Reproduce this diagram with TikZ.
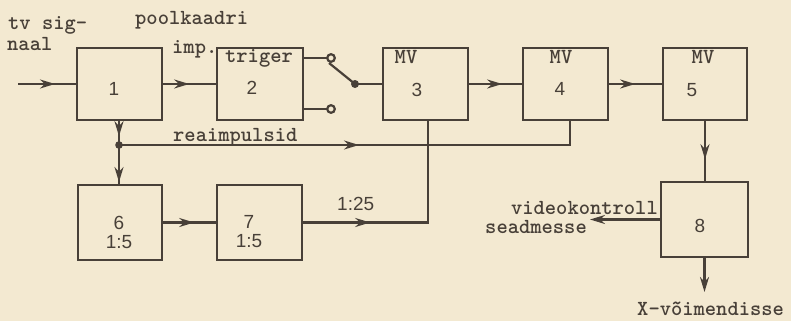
\documentclass[tikz,border=0pt]{standalone}
\usepackage{fontspec}
\newfontfamily\digt{Liberation Sans}
\usetikzlibrary{arrows.meta,decorations.markings}

\begin{document}
\begin{tikzpicture}[x=1pt,y=-1pt,
  blk/.style={draw=ink,line width=2.4pt,minimum width=85pt,minimum height=72pt,inner sep=0pt},
  lbl/.style={text=ink,font=\ttfamily\bfseries\fontsize{21.5}{22}\selectfont,inner sep=0pt},
  num/.style={text=ink,font=\digt\fontsize{19}{19}\selectfont,inner sep=0pt},
  wire/.style={draw=ink,line width=2.2pt},
  midarr/.style={postaction={decorate},decoration={markings,
    mark=at position #1 with {\arrow{Stealth[length=15pt,width=9pt]}}}}]
\definecolor{paper}{RGB}{243,233,209}
\definecolor{ink}{RGB}{72,64,56}
\useasboundingbox (0,0) rectangle (791,321);
\fill[paper] (0,0) rectangle (791,321);
%% --- blocks (pixel coordinates of the scan) ---
\node[blk] (b1) at (119.5,84) {};
\node[blk,minimum width=86pt] (b2) at (260,84) {};
\node[blk] (b3) at (425.5,84) {};
\node[blk] (b4) at (565.5,84) {};
\node[blk,minimum width=84pt] (b5) at (705,84) {};
\node[blk,minimum width=84pt,minimum height=75pt] (b6) at (120,222.5) {};
\node[blk,minimum height=75pt] (b7) at (259.5,222.5) {};
\node[blk,minimum width=87pt,minimum height=75pt] (b8) at (704.5,219.5) {};
%% --- numbers in the blocks
\node[num] (n1) at (114,89) {1};
\node[num] (n2) at (252,88) {2};
\node[num] (n3) at (417,90) {3};
\node[num] (n4) at (560,89) {4};
\node[num] (n5) at (692,90) {5};
\node[num,align=center] (n6) at (119,232) {6\\1:5};
\node[num,align=center] (n7) at (249,232) {7\\1:5};
\node[num] (n8) at (700,226) {8};
\node[lbl,anchor=base] (trg) at (259,63) {triger};
\node[lbl] (m3) at (406,57) {MV};
\node[lbl] (m4) at (561,57) {MV};
\node[lbl] (m5) at (703,57) {MV};
%% --- free ends and bends
\coordinate (in) at (18,84);
\coordinate (kt) at (331,58);
\coordinate (kb) at (331,109);
\coordinate (piv) at (355,84);
\coordinate (j) at (119,145);
\coordinate (c4) at (570,145);
\coordinate (c3) at (428,222.5);
\coordinate (vk) at (590,219.5);
\coordinate (xv) at (704.5,292);
%% --- connectors
\draw[wire,midarr=37pt] (in) -- (b1.west);
\draw[wire,midarr=26pt] (b1.east) -- (b2.west);
\draw[wire] (b2.east |- kt) -- (kt);
\draw[wire] (b2.east |- kb) -- (kb);
\draw[wire] ([shift={(-2,5)}]kt) -- (piv);
\draw[wire] (piv) -- (b3.west);
\draw[wire,fill=paper] (kt) circle (3.8pt);
\draw[wire,fill=paper] (kb) circle (3.8pt);
\fill[ink] (piv) circle (4pt);
\draw[wire,midarr=33pt] (b3.east) -- (b4.west);
\draw[wire,midarr=26pt] (b4.east) -- (b5.west);
\draw[wire,midarr=15pt] (b1.south -| j) -- (j);
\fill[ink] (j) circle (3.8pt);
\draw[wire,midarr=240pt] (j) -- (c4) -- (c4 |- b4.south);
\draw[wire,midarr=37pt] (j) -- (j |- b6.north);
\draw[wire,midarr=31pt] (b6.east) -- (b7.west);
\draw[wire,midarr=67pt] (b7.east) -- (c3) -- (c3 |- b3.south);
\draw[wire,midarr=38pt] (b5.south) -- (b5.south |- b8.north);
\draw[wire,-{Stealth[length=15pt,width=9pt]}] (b8.west) -- (vk);
\draw[wire,-{Stealth[length=15pt,width=9pt]}] (b8.south) -- (xv);
%% --- labels
\node[lbl,anchor=base west] (tv1) at (8,30) {tv sig-};
\node[lbl,anchor=base west] (tv2) at (7,51) {naal};
\node[lbl,anchor=base west] (pk) at (135,25) {poolkaadri};
\node[lbl,anchor=base west] (imp) at (172,53) {imp.};
\node[lbl,anchor=base west] (rea) at (173,141) {reaimpulsid};
\node[num,anchor=base west] (r25) at (337,210) {1:25};
\node[lbl,anchor=base east] (vid1) at (658,214) {videokontroll};
\node[lbl,anchor=base east] (vid2) at (587,233) {seadmesse};
\node[lbl,anchor=base west] (xv1) at (637,315) {X-võimendisse};
\end{tikzpicture}
\end{document}
